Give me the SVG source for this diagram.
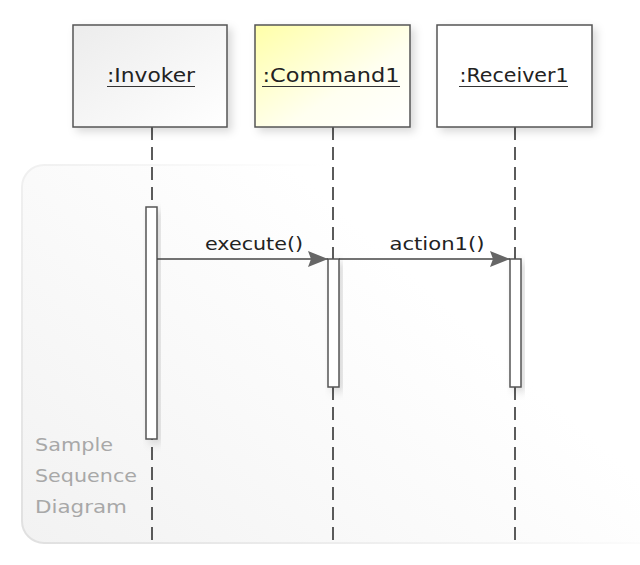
<svg xmlns="http://www.w3.org/2000/svg" width="640" height="565" viewBox="0 0 640 565">
<defs>
<linearGradient id="frameFill" gradientUnits="userSpaceOnUse" x1="22" y1="543" x2="330" y2="200">
<stop offset="0" stop-color="#f2f2f2"/>
<stop offset="0.6" stop-color="#fafafa"/>
<stop offset="1" stop-color="#ffffff"/>
</linearGradient>
<linearGradient id="frameStroke" gradientUnits="userSpaceOnUse" x1="22" y1="543" x2="360" y2="200">
<stop offset="0" stop-color="#e0e0e0"/>
<stop offset="0.7" stop-color="#f4f4f4"/>
<stop offset="1" stop-color="#ffffff"/>
</linearGradient>
<linearGradient id="grayFill" x1="0" y1="0" x2="1" y2="1">
<stop offset="0" stop-color="#ececec"/>
<stop offset="1" stop-color="#ffffff"/>
</linearGradient>
<linearGradient id="yellowFill" x1="0" y1="0" x2="1" y2="1">
<stop offset="0" stop-color="#ffffa8"/>
<stop offset="0.6" stop-color="#fffff0"/>
<stop offset="1" stop-color="#ffffff"/>
</linearGradient>
<filter id="shadow" x="-20%" y="-20%" width="150%" height="150%">
<feDropShadow dx="4" dy="4" stdDeviation="4" flood-color="#000" flood-opacity="0.15"/>
</filter>
<marker id="arrow" markerWidth="20" markerHeight="16" refX="20" refY="8" orient="auto" markerUnits="userSpaceOnUse">
<path d="M0,0 L20,8 L0,16 L3,8 Z" fill="#666"/>
</marker>
<style>
.box { stroke:#555; stroke-width:1.5; }
.lbl { font-family:"DejaVu Sans", sans-serif; font-size:19px; fill:#222; text-anchor:middle; }
.ul { stroke:#333; stroke-width:1.2; }
.life { stroke:#333; stroke-width:1.6; stroke-dasharray:13 7; fill:none; }
.act { fill:#fff; stroke:#555; stroke-width:1.5; }
.msg { stroke:#444; stroke-width:1.5; fill:none; }
.mlbl { font-family:"DejaVu Sans", sans-serif; font-size:17px; fill:#222; text-anchor:middle; }
.note { font-family:"DejaVu Sans", sans-serif; font-size:18px; fill:#a8a8a8; }
</style>
</defs>
<rect width="640" height="565" fill="#fff"/>
<g id="frame">
<rect x="22" y="165" width="640" height="378" rx="22" fill="url(#frameFill)" stroke="url(#frameStroke)" stroke-width="2"/>
<text class="note" x="35" y="451" textLength="78" lengthAdjust="spacingAndGlyphs">Sample</text>
<text class="note" x="35" y="482" textLength="102" lengthAdjust="spacingAndGlyphs">Sequence</text>
<text class="note" x="35" y="513" textLength="92" lengthAdjust="spacingAndGlyphs">Diagram</text>
</g>
<g id="lifelines">
<line class="life" x1="152" y1="127" x2="152" y2="543"/>
<line class="life" x1="333" y1="127" x2="333" y2="543"/>
<line class="life" x1="515" y1="127" x2="515" y2="543"/>
</g>
<g id="invoker">
<rect class="box" x="73" y="25" width="154" height="102" fill="url(#grayFill)" filter="url(#shadow)"/>
<text class="lbl" x="151" y="82" textLength="88" lengthAdjust="spacingAndGlyphs">:Invoker</text>
<line class="ul" x1="107" y1="86.5" x2="195" y2="86.5"/>
<rect class="act" x="146" y="207" width="11" height="232" filter="url(#shadow)"/>
</g>
<g id="command1">
<rect class="box" x="255" y="25" width="155" height="102" fill="url(#yellowFill)" filter="url(#shadow)"/>
<text class="lbl" x="331" y="82" textLength="137" lengthAdjust="spacingAndGlyphs">:Command1</text>
<line class="ul" x1="262" y1="86.5" x2="400" y2="86.5"/>
<rect class="act" x="328" y="259" width="11" height="128" filter="url(#shadow)"/>
</g>
<g id="receiver1">
<rect class="box" x="437" y="25" width="155" height="102" fill="#fff" filter="url(#shadow)"/>
<text class="lbl" x="514" y="82" textLength="109" lengthAdjust="spacingAndGlyphs">:Receiver1</text>
<line class="ul" x1="459" y1="86.5" x2="568" y2="86.5"/>
<rect class="act" x="510" y="259" width="11" height="128" filter="url(#shadow)"/>
</g>
<g id="connectors">
<line class="msg" x1="157" y1="259" x2="328" y2="259" marker-end="url(#arrow)"/>
<text class="mlbl" x="254" y="250" textLength="98" lengthAdjust="spacingAndGlyphs">execute()</text>
<line class="msg" x1="339" y1="259" x2="510" y2="259" marker-end="url(#arrow)"/>
<text class="mlbl" x="437" y="250" textLength="95" lengthAdjust="spacingAndGlyphs">action1()</text>
</g>
</svg>
